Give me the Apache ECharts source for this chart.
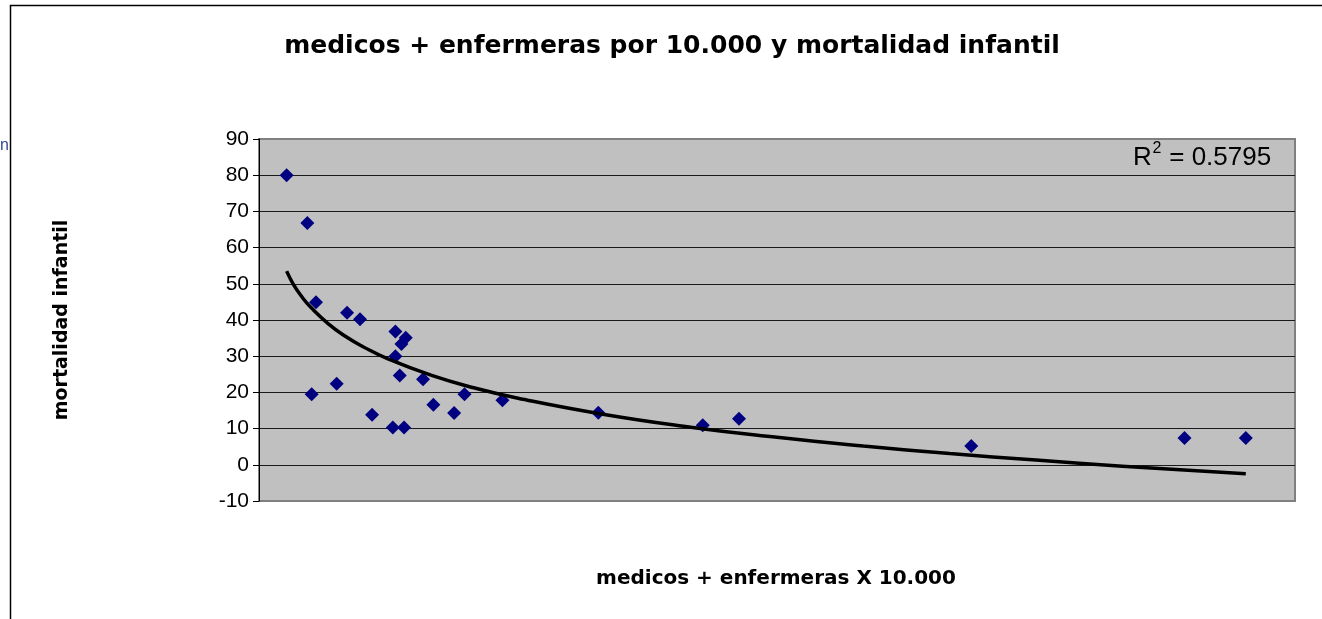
<!DOCTYPE html>
<html>
<head>
<meta charset="utf-8">
<title>medicos + enfermeras por 10.000 y mortalidad infantil</title>
<script src="https://cdn.jsdelivr.net/npm/echarts@6/dist/echarts.min.js"></script>
<style>
  html, body { margin: 0; padding: 0; background: #fff; }
  #chart { width: 1322px; height: 619px; }
</style>
</head>
<body>
<div id="chart"></div>
<script>
// medicos + enfermeras x 10.000 (eje X sin etiquetas en el original)
const personal = [3.2, 5.6, 6.6, 6.1, 9.0, 10.2, 11.7, 13.1, 15.8, 15.8, 16.3, 16.5, 17.0,
  15.5, 16.8, 19.0, 20.2, 22.6, 23.8, 28.2, 39.3, 51.4, 55.6, 82.5, 107.2, 114.3]
// mortalidad infantil
const mortalidad = [80.0, 66.8, 44.9, 19.5, 22.4, 42.0, 40.2, 13.8, 36.8, 30.0, 24.7, 33.4, 35.1,
  10.3, 10.3, 23.6, 16.6, 14.3, 19.5, 17.8, 14.4, 10.9, 12.7, 5.2, 7.4, 7.4]

// linea de tendencia (logaritmica)
const tendenciaX = [3.2, 4, 5, 6, 8, 10, 12, 15, 20, 25, 30, 40, 50, 60, 70, 80, 90, 100, 114.3]
const tendenciaY = [53.5, 49.8, 46.3, 43.5, 39.0, 35.5, 32.7, 29.2, 24.7, 21.2, 18.4, 13.9,
  10.4, 7.6, 5.2, 3.1, 1.3, -0.4, -2.5]

const yTicks = { min: -10, max: 90, step: 10 }
const r2Label = '0.5795'

const puntos = personal.map((x, i) => [x, mortalidad[i]])
const tendencia = tendenciaX.map((x, i) => [x, tendenciaY[i]])

const chart = echarts.init(document.getElementById('chart'))

chart.setOption({
  animation: false,
  backgroundColor: '#ffffff',
  grid: {
    left: 259,
    top: 139,
    right: 27,
    bottom: 118,
    show: true,
    backgroundColor: '#c0c0c0',
    borderColor: '#808080',
    borderWidth: 2
  },
  xAxis: {
    type: 'value',
    min: 0,
    max: 120,
    axisLine: { show: false },
    axisTick: { show: false },
    axisLabel: { show: false },
    splitLine: { show: false }
  },
  yAxis: {
    type: 'value',
    min: yTicks.min,
    max: yTicks.max,
    interval: yTicks.step,
    axisLine: { show: true, lineStyle: { color: '#000', width: 1 } },
    axisTick: { show: true, length: 6, inside: false, lineStyle: { color: '#000' } },
    axisLabel: {
      color: '#000',
      fontFamily: 'Liberation Sans, Arial, sans-serif',
      fontSize: 21,
      margin: 10
    },
    splitLine: {
      show: true,
      showMinLine: false,
      showMaxLine: false,
      lineStyle: { color: '#1a1a1a', width: 1 }
    }
  },
  series: [
    {
      name: 'mortalidad',
      type: 'scatter',
      data: puntos,
      symbol: 'diamond',
      symbolSize: 14,
      itemStyle: { color: '#000080', opacity: 1 },
      z: 3
    },
    {
      name: 'tendencia',
      type: 'line',
      data: tendencia,
      smooth: true,
      showSymbol: false,
      lineStyle: { color: '#000', width: 3.5 },
      z: 4
    }
  ],
  graphic: [
    // marco del grafico
    {
      type: 'rect',
      shape: { x: 10.5, y: 5.5, width: 1400, height: 700 },
      style: { fill: 'none', stroke: '#000', lineWidth: 1.5 },
      silent: true
    },
    {
      type: 'text',
      left: 0,
      top: 138,
      style: { text: 'n', fill: '#2e4a9a', font: '16px "Liberation Sans", Arial, sans-serif' }
    },
    {
      type: 'text',
      x: 672,
      y: 46,
      style: {
        text: 'medicos + enfermeras por 10.000 y mortalidad infantil',
        fill: '#000',
        font: 'bold 25px "DejaVu Sans", sans-serif',
        align: 'center',
        verticalAlign: 'middle'
      }
    },
    {
      type: 'text',
      x: 776,
      y: 579,
      style: {
        text: 'medicos + enfermeras X 10.000',
        fill: '#000',
        font: 'bold 20px "DejaVu Sans", sans-serif',
        align: 'center',
        verticalAlign: 'middle'
      }
    },
    {
      type: 'text',
      x: 62,
      y: 320,
      rotation: Math.PI / 2,
      style: {
        text: 'mortalidad infantil',
        fill: '#000',
        font: 'bold 19px "DejaVu Sans", sans-serif',
        align: 'center',
        verticalAlign: 'middle'
      }
    },
    // R^2
    {
      type: 'text',
      x: 1133,
      y: 158,
      style: {
        text: 'R',
        fill: '#000',
        font: '26px "Liberation Sans", Arial, sans-serif',
        verticalAlign: 'middle'
      }
    },
    {
      type: 'text',
      x: 1152.5,
      y: 149,
      style: {
        text: '2',
        fill: '#000',
        font: '16px "Liberation Sans", Arial, sans-serif',
        verticalAlign: 'middle'
      }
    },
    {
      type: 'text',
      x: 1162,
      y: 158,
      style: {
        text: ' = ' + r2Label,
        fill: '#000',
        font: '26px "Liberation Sans", Arial, sans-serif',
        verticalAlign: 'middle'
      }
    }
  ]
})

window.addEventListener('resize', () => chart.resize())
</script>
</body>
</html>
